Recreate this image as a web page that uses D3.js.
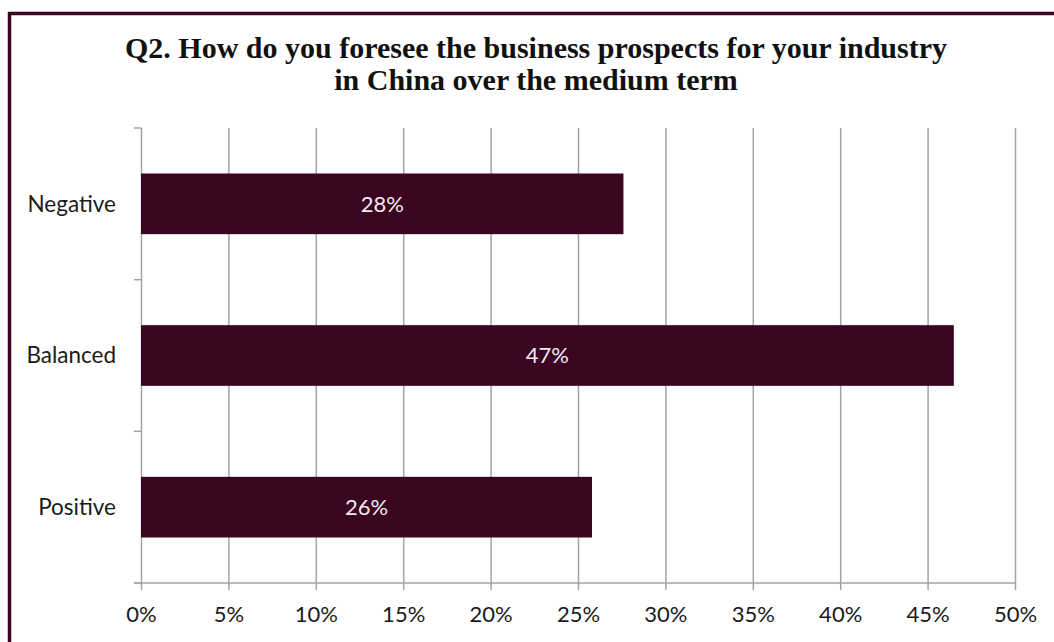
<!DOCTYPE html>
<html>
<head>
<meta charset="utf-8">
<script src="https://cdn.jsdelivr.net/npm/d3@7/dist/d3.min.js"></script>
<style>
  html, body { margin: 0; padding: 0; background: #fff; }
  svg { display: block; }
</style>
</head>
<body>
<svg id="chart" width="1054" height="642"></svg>
<script>
// Survey answers, top to bottom
const categories = ["Negative", "Balanced", "Positive"];
const shares = [0.276, 0.465, 0.258];
const tickValues = [0, 0.05, 0.10, 0.15, 0.20, 0.25, 0.30, 0.35, 0.40, 0.45, 0.50];
const titleLines = [
  "Q2. How do you foresee the business prospects for your industry",
  "in China over the medium term"
];

const svg = d3.select("#chart");
const W = 1054, H = 642;
const maroon = "#3a0520";
const grid = "#a3a3a3";
const sans = "Lato, 'Open Sans', sans-serif";

// Frame (top and left edges)
svg.append("line").attr("x1", 8).attr("x2", W).attr("y1", 13.5).attr("y2", 13.5)
  .attr("stroke", maroon).attr("stroke-width", 3.5);
svg.append("line").attr("x1", 9.5).attr("x2", 9.5).attr("y1", 12).attr("y2", H)
  .attr("stroke", maroon).attr("stroke-width", 3.5);

// Title
svg.append("g").selectAll("text").data(titleLines).join("text")
  .attr("x", 536)
  .attr("y", (d, i) => 58 + i * 32)
  .attr("text-anchor", "middle")
  .attr("font-family", "'Liberation Serif', 'Times New Roman', serif")
  .attr("font-weight", "bold")
  .attr("font-size", 30)
  .attr("fill", "#111")
  .text(d => d);

const plotLeft = 141, plotRight = 1015, plotTop = 128, plotBottom = 583;

const x = d3.scaleLinear().domain([0, 0.5]).range([plotLeft, plotRight]);
const y = d3.scaleBand().domain(categories).range([plotTop, plotBottom]).paddingInner(0.6).paddingOuter(0.3);

// Vertical gridlines with ticks below the axis
const xAxis = d3.axisBottom(x)
  .tickValues(tickValues)
  .tickFormat(d3.format(".0%"))
  .tickSize(-(plotBottom - plotTop))
  .tickPadding(23);

const gx = svg.append("g").attr("transform", `translate(0,${plotBottom})`).call(xAxis);
gx.select(".domain").remove();
gx.selectAll(".tick line").attr("stroke", grid).attr("stroke-width", 1.5)
  .attr("y2", -(plotBottom - plotTop)).attr("y1", 7);
gx.selectAll(".tick text")
  .attr("font-family", sans)
  .attr("font-size", 22)
  .attr("fill", "#1a1a1a");

// Horizontal axis line
svg.append("line").attr("x1", 134).attr("x2", plotRight).attr("y1", plotBottom).attr("y2", plotBottom)
  .attr("stroke", grid).attr("stroke-width", 1.5);

// Category separators on the left
const bounds = d3.range(categories.length + 1)
  .map(i => plotTop + i * (plotBottom - plotTop) / categories.length);
svg.append("g").selectAll("line").data(bounds).join("line")
  .attr("x1", 134).attr("x2", plotLeft).attr("y1", d => d).attr("y2", d => d)
  .attr("stroke", grid).attr("stroke-width", 1.5);

// Category labels
svg.append("g").selectAll("text").data(categories).join("text")
  .attr("x", 116)
  .attr("y", d => y(d) + y.bandwidth() / 2)
  .attr("dy", "0.35em")
  .attr("text-anchor", "end")
  .attr("font-family", sans)
  .attr("font-size", 22.5)
  .attr("fill", "#1a1a1a")
  .text(d => d);

// Bars
const rows = categories.map((c, i) => ({ c, v: shares[i] }));
svg.append("g").selectAll("rect").data(rows).join("rect")
  .attr("x", x(0))
  .attr("y", d => y(d.c))
  .attr("width", d => x(d.v) - x(0))
  .attr("height", y.bandwidth())
  .attr("fill", maroon);

// Value labels centred in bars
svg.append("g").selectAll("text").data(rows).join("text")
  .attr("x", d => (x(0) + x(d.v)) / 2)
  .attr("y", d => y(d.c) + y.bandwidth() / 2)
  .attr("dy", "0.35em")
  .attr("text-anchor", "middle")
  .attr("font-family", sans)
  .attr("font-size", 22)
  .attr("fill", "#f2eaee")
  .text(d => d3.format(".0%")(d.v));
</script>
</body>
</html>
